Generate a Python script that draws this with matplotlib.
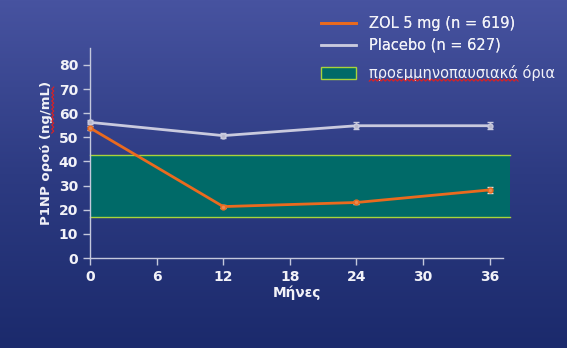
import numpy as np
import matplotlib
matplotlib.use("Agg")
import matplotlib.pyplot as plt
from matplotlib.colors import LinearSegmentedColormap
from matplotlib.lines import Line2D
from matplotlib.patches import Rectangle, Patch

# Data
months = [0, 12, 24, 36]
zol = [53.9, 21.3, 23.0, 28.2]
zol_err = [0.8, 0.7, 0.7, 1.4]
placebo = [56.2, 50.7, 54.8, 54.8]
placebo_err = [0.8, 1.1, 1.4, 1.4]
premeno_low, premeno_high = 17.0, 42.7
x_ticks = [0, 6, 12, 18, 24, 30, 36]
y_ticks = [0, 10, 20, 30, 40, 50, 60, 70, 80]

zol_label = "ZOL 5 mg (n = 619)"
placebo_label = "Placebo (n = 627)"
band_word = "προεμμηνοπαυσιακά"
band_label = band_word + " όρια"
x_label = "Μήνες"
y_prefix = "P1NP ορού ("
y_unit = "ng/mL"
y_label = y_prefix + y_unit + ")"

plt.rcParams['font.family'] = ['DejaVu Sans']
W, H = 5.67, 3.48
fig = plt.figure(figsize=(W, H), dpi=100)

# Vertical gradient background
bg = fig.add_axes([0, 0, 1, 1], zorder=-10)
grad = np.linspace(0, 1, 256).reshape(-1, 1)
cmap = LinearSegmentedColormap.from_list("bg", ["#4753a0", "#2d3b82", "#1b2a6c"])
bg.imshow(grad, aspect="auto", cmap=cmap, extent=[0, 1, 0, 1], origin="upper")
bg.set_axis_off()

fg = "#f2f2f8"
axis_col = "#c4c8dc"
orange = "#ea6a1e"
gray = "#c9cade"
teal = "#006a68"
lime = "#a8d43a"

ax = fig.add_axes([90 / 567, 1 - 258 / 348, 413 / 567, 210 / 348])
ax.patch.set_alpha(0)
ax.set_xlim(0, 37.2)
ax.set_ylim(0, 87)

# Premenopausal reference range
band = Rectangle((0, premeno_low), 37.8, premeno_high - premeno_low,
                 facecolor=teal, edgecolor="none", zorder=1, clip_on=False)
ax.add_patch(band)
for yv in (premeno_low, premeno_high):
    ax.plot([0, 37.8], [yv, yv], color=lime, lw=1.0, zorder=2, clip_on=False)

ax.errorbar(months, placebo, yerr=placebo_err, color=gray, lw=2.0,
            marker="o", ms=3.5, mfc="#b8b8cc", mec=gray, capsize=2.2,
            elinewidth=1.0, capthick=1.0, zorder=4, clip_on=False)
ax.errorbar(months, zol, yerr=zol_err, color=orange, lw=2.0,
            marker="o", ms=3.5, mfc="#e88a50", mec=orange, capsize=2.2,
            ecolor="#e8e0d8", elinewidth=1.0, capthick=1.0, zorder=5, clip_on=False)

for s in ("top", "right"):
    ax.spines[s].set_visible(False)
for s in ("left", "bottom"):
    ax.spines[s].set_color(axis_col)
    ax.spines[s].set_linewidth(1.0)
ax.set_xticks(x_ticks)
ax.set_yticks(y_ticks)
ax.tick_params(colors=axis_col, labelcolor=fg, labelsize=10, length=5, width=1)
for lbl in ax.get_xticklabels() + ax.get_yticklabels():
    lbl.set_fontweight("bold")
ax.set_xlabel(x_label, color=fg, fontsize=9.8, fontweight="bold", labelpad=1)
ax.set_ylabel(y_label, color=fg, fontsize=9.5, fontweight="bold", labelpad=4)

handles = [Line2D([], [], color=orange, lw=2.0),
           Line2D([], [], color=gray, lw=1.8)]
leg1 = fig.legend(handles, [zol_label, placebo_label], loc="upper left",
                  bbox_to_anchor=(308 / 567, 1 - 3 / 348), frameon=False,
                  fontsize=10.5, handlelength=2.4, handletextpad=0.9,
                  labelspacing=0.45, labelcolor=fg)
leg2 = fig.legend([Patch(facecolor=teal, edgecolor=lime, lw=1.0)],
                  [band_label], loc="upper left",
                  bbox_to_anchor=(308 / 567, 1 - 52 / 348), frameon=False,
                  fontsize=10.5, handlelength=2.4, handleheight=0.9,
                  handletextpad=0.9, labelcolor=fg)
fig.add_artist(leg1)

# Red spell-check squiggles under two words
fig.canvas.draw()
renderer = fig.canvas.get_renderer()


def text_width(s, size, weight="normal"):
    t = fig.text(0, 0, s, fontsize=size, fontweight=weight)
    w = t.get_window_extent(renderer).width
    t.remove()
    return w


def squiggle(x0, x1, y, vertical=False, step=2.0, amp=1.0):
    n = max(int((x1 - x0) / step), 2)
    t = np.linspace(x0, x1, n + 1)
    off = np.where(np.arange(n + 1) % 2 == 0, -amp, amp)
    if vertical:
        xs, ys = y + off, t
    else:
        xs, ys = t, y + off
    fig.add_artist(Line2D(xs / (W * 100), ys / (H * 100), color="#e02020",
                          lw=0.8, transform=fig.transFigure, zorder=20))


lbl_text = leg2.get_texts()[0]
bb = lbl_text.get_window_extent(renderer)
squiggle(bb.x0, bb.x0 + text_width(band_word, 10.5), bb.y0 + 1.0)

ylab = ax.yaxis.label
bb = ylab.get_window_extent(renderer)
y_start = bb.y0 + text_width(y_prefix, 9.5, "bold")
squiggle(y_start, y_start + text_width(y_unit, 9.5, "bold"), bb.x1 - 0.5,
         vertical=True)

fig.savefig("out.png", dpi=100)
